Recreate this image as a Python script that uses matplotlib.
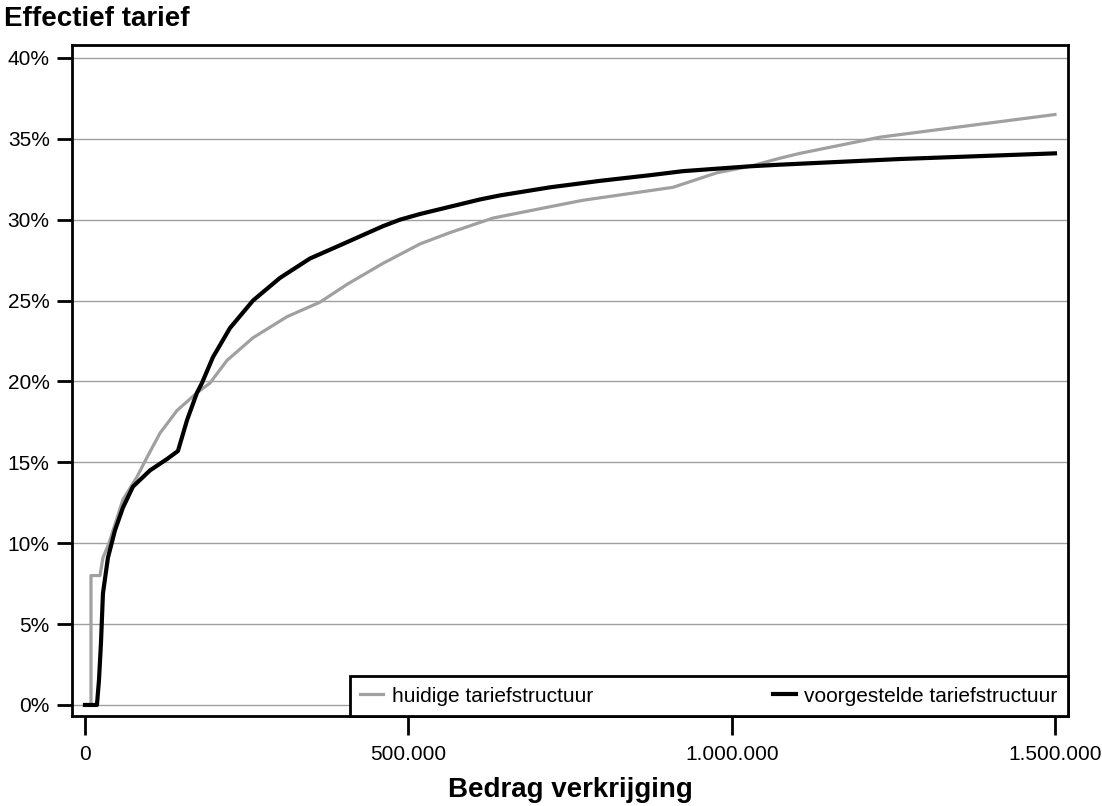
import numpy as np
import matplotlib as mpl
mpl.use('Agg')
import matplotlib.pyplot as plt

# Data (bedrag in euro, effectief tarief in %)
huidig_x = [0, 9300, 9300, 23200, 27800, 37100, 58700, 80400, 95800, 115900,
            142200, 173100, 193200, 219500, 259700, 312200, 363200, 405000,
            460600, 517800, 564100, 630600, 718700, 769700, 908800, 976800,
            1027800, 1074200, 1105000, 1228700, 1499200]
huidig_y = [0, 0, 8.0, 8.0, 9.1, 10.0, 12.7, 14.1, 15.3, 16.8,
            18.2, 19.3, 19.9, 21.3, 22.7, 24.0, 24.9, 26.0,
            27.3, 28.5, 29.2, 30.1, 30.8, 31.2, 32.0, 32.9,
            33.3, 33.8, 34.1, 35.1, 36.5]

voorstel_x = [0, 18500, 21600, 24700, 27800, 35500, 46400, 58700, 74200, 100500,
              126700, 143700, 157700, 173100, 180800, 197800, 224100, 259700,
              301400, 347800, 398800, 460600, 486900, 517800, 564100, 610500,
              641400, 718700, 796000, 873300, 924300, 1027800, 1074200, 1259700,
              1499200]
voorstel_y = [0, 0, 1.5, 3.8, 6.9, 9.1, 10.8, 12.2, 13.5, 14.5,
              15.2, 15.7, 17.6, 19.3, 19.9, 21.5, 23.3, 25.0,
              26.4, 27.6, 28.5, 29.6, 30.0, 30.35, 30.8, 31.25,
              31.5, 32.0, 32.4, 32.75, 33.0, 33.3, 33.4, 33.75,
              34.1]

yticks = [0, 5, 10, 15, 20, 25, 30, 35, 40]
ytick_labels = ['0%', '5%', '10%', '15%', '20%', '25%', '30%', '35%', '40%']
xticks = [0, 500000, 1000000, 1500000]
xtick_labels = ['0', '500.000', '1.000.000', '1.500.000']

plt.rcParams['font.family'] = ['Liberation Sans', 'DejaVu Sans']

fig = plt.figure(figsize=(11.02, 8.06), dpi=100)
ax = fig.add_axes([0.0653, 0.1117, 0.9038, 0.8325])

ax.grid(axis='y', color='#a0a0a0', linewidth=1.0, zorder=0)
ax.plot(huidig_x, huidig_y, color='#a0a0a0', linewidth=2.3,
        label='huidige tariefstructuur', zorder=3, solid_joinstyle='round')
ax.plot(voorstel_x, voorstel_y, color='black', linewidth=3.0,
        label='voorgestelde tariefstructuur', zorder=4, solid_joinstyle='round')

ax.set_xlim(-20100, 1519300)
ax.set_ylim(-0.68, 40.8)
ax.set_yticks(yticks)
ax.set_yticklabels(ytick_labels)
ax.set_xticks(xticks)
ax.set_xticklabels(xtick_labels)
ax.tick_params(axis='y', length=11, width=2, labelsize=15, pad=5)
ax.tick_params(axis='x', length=14, width=2, labelsize=15, pad=7)

for spine in ax.spines.values():
    spine.set_linewidth(2)

ax.set_xlabel('Bedrag verkrijging', fontsize=20, fontweight='bold', labelpad=9)
fig.text(0.004, 0.993, 'Effectief tarief', fontsize=20, fontweight='bold',
         ha='left', va='top')

leg = ax.legend(loc='lower left', bbox_to_anchor=(0.279, 0.0, 0.721, 0.066),
                mode='expand', borderaxespad=0, ncol=2, fontsize=15,
                handlelength=1.1, handletextpad=0.4, fancybox=False,
                framealpha=1, borderpad=0.5)
leg.get_frame().set_edgecolor('black')
leg.get_frame().set_linewidth(2)

plt.savefig('out.png', dpi=100)
